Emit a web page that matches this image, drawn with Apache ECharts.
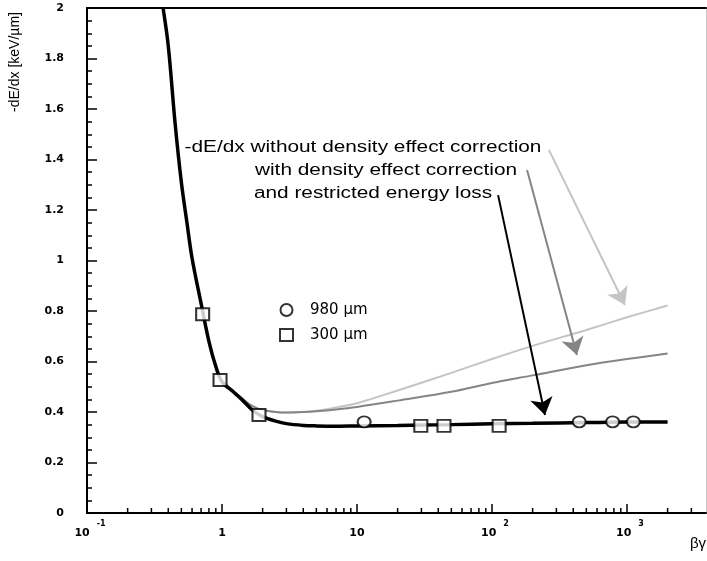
<!DOCTYPE html>
<html><head><meta charset="utf-8">
<script src="https://cdn.jsdelivr.net/npm/echarts@6/dist/echarts.min.js"></script>
<style>html,body{margin:0;padding:0;background:#fff}#c{width:707px;height:561px}</style>
</head><body><div id="c"></div>
<script>
// beta*gamma grid and -dE/dx (keV/um)
const bgBlack = [0.366,0.40,0.45,0.50,0.55,0.60,0.70,0.80,0.90,1.0,1.2,1.4,1.7,2.0,2.5,3.0,4.0,5.0,7.0,10,20,50,100,200,500,1000,2000];
const restricted = [2.00,1.85,1.54,1.31,1.15,1.01,0.83,0.68,0.58,0.52,0.482,0.450,0.405,0.382,0.364,0.354,0.347,0.345,0.344,0.345,0.347,0.350,0.353,0.355,0.358,0.360,0.360];
const bgGray = [1.0,1.2,1.4,1.7,2.0,2.5,3.0,4.0,5.0,7.0,10,20,50,100,200,500,1000,2000];
const noDensity = [0.52,0.485,0.454,0.422,0.408,0.400,0.398,0.400,0.405,0.418,0.435,0.485,0.555,0.610,0.662,0.725,0.775,0.822];
const withDensity = [0.52,0.485,0.454,0.422,0.408,0.400,0.398,0.400,0.403,0.410,0.420,0.445,0.480,0.515,0.545,0.585,0.610,0.632];
const det980bg = [11.3,443,783,1115];
const det980 = [0.361,0.361,0.361,0.361];
const det300bg = [0.719,0.967,1.88,29.7,44.1,113];
const det300 = [0.787,0.527,0.388,0.345,0.345,0.345];
const seriesNames = ['980 µm','300 µm'];
const annotTexts = ['-dE/dx without density effect correction','with density effect correction','and restricted energy loss'];
// arrows: [start bg, start y, end bg, end y]
const arrowNoDensity = [264,1.438,966,0.824];
const arrowWithDensity = [182,1.358,426,0.626];
const arrowRestricted = [111,1.259,247,0.388];
const xTickValues = [0.1,1,10,100,1000];
const xTickBase = ['10','1','10','10','10'];
const xTickExp = ['-1','','','2','3'];
const xMinorTicks = [0.2,0.3,0.4,0.5,0.6,0.7,0.8,0.9,2,3,4,5,6,7,8,9,20,30,40,50,60,70,80,90,200,300,400,500,600,700,800,900,2000,3000];
const yMin = 0, yMax = 2, yStep = 0.2;
const xMin = 0.1, xMax = 3850;

const zip = (a,b) => a.map((v,i)=>[v,b[i]]);
const arrowLine = (a,color) => ({
  symbol:['none','arrow'], symbolSize:17, silent:true, animation:false,
  label:{show:false},
  lineStyle:{color:color,width:2,type:'solid'},
  itemStyle:{color:color},
  emphasis:{disabled:true},
  data:[[{coord:[a[0],a[1]]},{coord:[a[2],a[3]]}]]
});

const chart = echarts.init(document.getElementById('c'), null, {renderer:'canvas'});
const tickFont = 'DejaVu Sans';
chart.setOption({
  animation:false,
  backgroundColor:'#fff',
  grid:{left:87,right:1,top:8,bottom:48,containLabel:false},
  xAxis:[{
    type:'log', logBase:10, min:xMin, max:xMax,
    axisLine:{lineStyle:{color:'#000',width:2}},
    axisTick:{inside:true,length:9,lineStyle:{color:'#000',width:1.5}},
    splitLine:{show:false},
    axisLabel:{margin:7,showMaxLabel:false,
      formatter:function(v){
        for (let i=0;i<xTickValues.length;i++){
          if (Math.abs(Math.log10(v)-Math.log10(xTickValues[i]))<1e-6){
            if (xTickExp[i]==='') return '{b|'+xTickBase[i]+'}';
            return '{bp|'+xTickBase[i]+'}{s|'+xTickExp[i]+'}';
          }
        }
        return '';
      },
      rich:{
        b:{fontFamily:tickFont,fontWeight:'bold',fontSize:11,color:'#000',padding:[8,0,0,0]},
        bp:{fontFamily:tickFont,fontWeight:'bold',fontSize:11,color:'#000',padding:[8,0,0,6]},
        s:{fontFamily:tickFont,fontWeight:'bold',fontSize:8,color:'#000',verticalAlign:'top',padding:[0,0,0,7]}
      }
    }
  },{
    type:'value', position:'top', min:0, max:1, show:true,
    axisLine:{show:true,onZero:false,lineStyle:{color:'#000',width:2}},
    axisTick:{show:false}, axisLabel:{show:false}, splitLine:{show:false}
  }],
  yAxis:[{
    type:'value', min:yMin, max:yMax, interval:yStep,
    axisLine:{show:true,lineStyle:{color:'#000',width:2}},
    axisTick:{show:true,inside:true,length:10,lineStyle:{color:'#000',width:1.5}},
    minorTick:{show:true,splitNumber:4,length:5,lineStyle:{color:'#000',width:1.5}},
    splitLine:{show:false},
    axisLabel:{margin:23,fontFamily:tickFont,fontWeight:'bold',fontSize:11,color:'#000',
      formatter:function(v){return (Math.abs(v-Math.round(v))<1e-9)?String(Math.round(v)):v.toFixed(1);}}
  },{
    type:'value', position:'right', min:0, max:1,
    axisLine:{show:true,onZero:false,lineStyle:{color:'#c8c8c8',width:1}},
    axisTick:{show:false}, axisLabel:{show:false}, splitLine:{show:false}
  }],
  legend:{
    data:[{name:seriesNames[0],icon:'circle'},{name:seriesNames[1],icon:'rect'}],
    orient:'vertical', left:274, top:297, itemWidth:13, itemHeight:12, itemGap:9,
    selectedMode:false,
    itemStyle:{color:'#fff',borderColor:'#000',borderWidth:2},
    textStyle:{fontFamily:'DejaVu Sans',fontSize:15,color:'#000',lineHeight:16,padding:[0,0,0,12]}
  },
  series:[
    {type:'custom', name:'minorX', coordinateSystem:'cartesian2d', xAxisIndex:0, yAxisIndex:0, silent:true, clip:false, z:6,
     data:xMinorTicks.map(v=>[v,0]),
     renderItem:function(params,api){
       const p = api.coord([api.value(0),0]);
       return {type:'line',shape:{x1:p[0],y1:p[1],x2:p[0],y2:p[1]-5},style:{stroke:'#000',lineWidth:1.5}};
     }},
    {type:'line', name:'noDensity', data:zip(bgGray,noDensity), showSymbol:false, smooth:0.35,
     lineStyle:{color:'#c4c4c4',width:2}, itemStyle:{color:'#c4c4c4'}, z:2, silent:true,
     markLine:arrowLine(arrowNoDensity,'#c4c4c4')},
    {type:'line', name:'withDensity', data:zip(bgGray,withDensity), showSymbol:false, smooth:0.35,
     lineStyle:{color:'#858585',width:2}, itemStyle:{color:'#858585'}, z:3, silent:true,
     markLine:arrowLine(arrowWithDensity,'#858585')},
    {type:'line', name:'restricted', data:zip(bgBlack,restricted), showSymbol:false, smooth:0.35,
     lineStyle:{color:'#000',width:3.5}, itemStyle:{color:'#000'}, z:4, silent:true,
     markLine:arrowLine(arrowRestricted,'#000')},
    {type:'scatter', name:seriesNames[0], data:zip(det980bg,det980), symbol:'circle', symbolSize:[13,11],
     itemStyle:{color:'#fff',borderColor:'#000',borderWidth:2}, z:7, silent:true},
    {type:'scatter', name:seriesNames[1], data:zip(det300bg,det300), symbol:'rect', symbolSize:[13,12],
     itemStyle:{color:'#fff',borderColor:'#000',borderWidth:2}, z:7, silent:true}
  ],
  graphic:[
    {type:'text', x:363, y:148, scaleX:1.3, style:{text:annotTexts[0], font:'16px "Liberation Sans"', textAlign:'center', textVerticalAlign:'middle', fill:'#000'}},
    {type:'text', x:386, y:171, scaleX:1.3, style:{text:annotTexts[1], font:'16px "Liberation Sans"', textAlign:'center', textVerticalAlign:'middle', fill:'#000'}},
    {type:'text', x:373, y:194, scaleX:1.3, style:{text:annotTexts[2], font:'16px "Liberation Sans"', textAlign:'center', textVerticalAlign:'middle', fill:'#000'}},
    {type:'text', x:15, y:62, rotation:Math.PI/2, style:{text:'-dE/dx [keV/µm]', font:'14px "Liberation Sans"', textAlign:'center', textVerticalAlign:'middle', fill:'#000'}},
    {type:'text', x:698, y:544, style:{text:'βγ', font:'15px "Liberation Sans"', textAlign:'center', textVerticalAlign:'middle', fill:'#000'}}
  ]
});
</script>
</body></html>
